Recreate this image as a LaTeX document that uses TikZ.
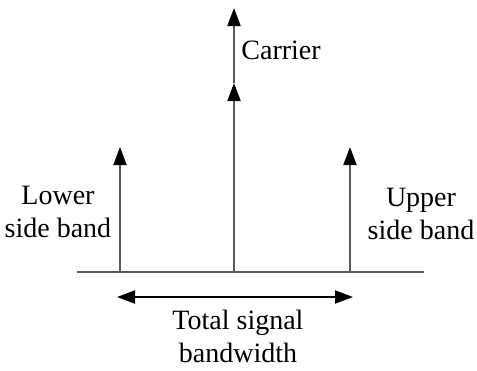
\documentclass[tikz,border=0pt]{standalone}
\usepackage{fontspec}
\setmainfont{Liberation Serif}
\usetikzlibrary{arrows.meta}

\begin{document}
\begin{tikzpicture}[x=0.5pt, y=-0.5pt,
    every node/.style={font=\fontsize{14}{16.5}\selectfont, align=center, inner sep=0pt},
    axisline/.style={draw=black!65, line width=1pt},
    spike/.style={axisline, -{Triangle[length=9pt, width=6.5pt, color=black]}},
    bwarrow/.style={draw=black, line width=1pt, {Triangle[length=9pt, width=6.5pt]}-{Triangle[length=9pt, width=6.5pt]}}]
  \useasboundingbox (0,0) rectangle (477,370);
  % frequency axis
  \coordinate (axl) at (77,272);
  \coordinate (axr) at (424,272);
  \draw[axisline] (axl) -- (axr);
  % spectral lines
  \coordinate (lsb0) at (120,272);
  \coordinate (lsb1) at (120,147);
  \coordinate (car0) at (234,272);
  \coordinate (car1) at (234,83);
  \coordinate (car2) at (234,8);
  \coordinate (usb0) at (350,272);
  \coordinate (usb1) at (350,147);
  \draw[spike] (lsb0) -- (lsb1);
  \draw[spike] (car0) -- (car1);
  \draw[spike] (car1) -- (car2);
  \draw[spike] (usb0) -- (usb1);
  % labels
  \node[anchor=west] (carrier) at (241,50) {Carrier};
  \node (lower) at (58,212) {Lower\\side band};
  \node (upper) at (421,214) {Upper\\side band};
  % bandwidth
  \coordinate (bwl) at (117,297);
  \coordinate (bwr) at (353,297);
  \draw[bwarrow] (bwl) -- (bwr);
  \node (total) at (238,336) {Total signal\\bandwidth};
\end{tikzpicture}
\end{document}
